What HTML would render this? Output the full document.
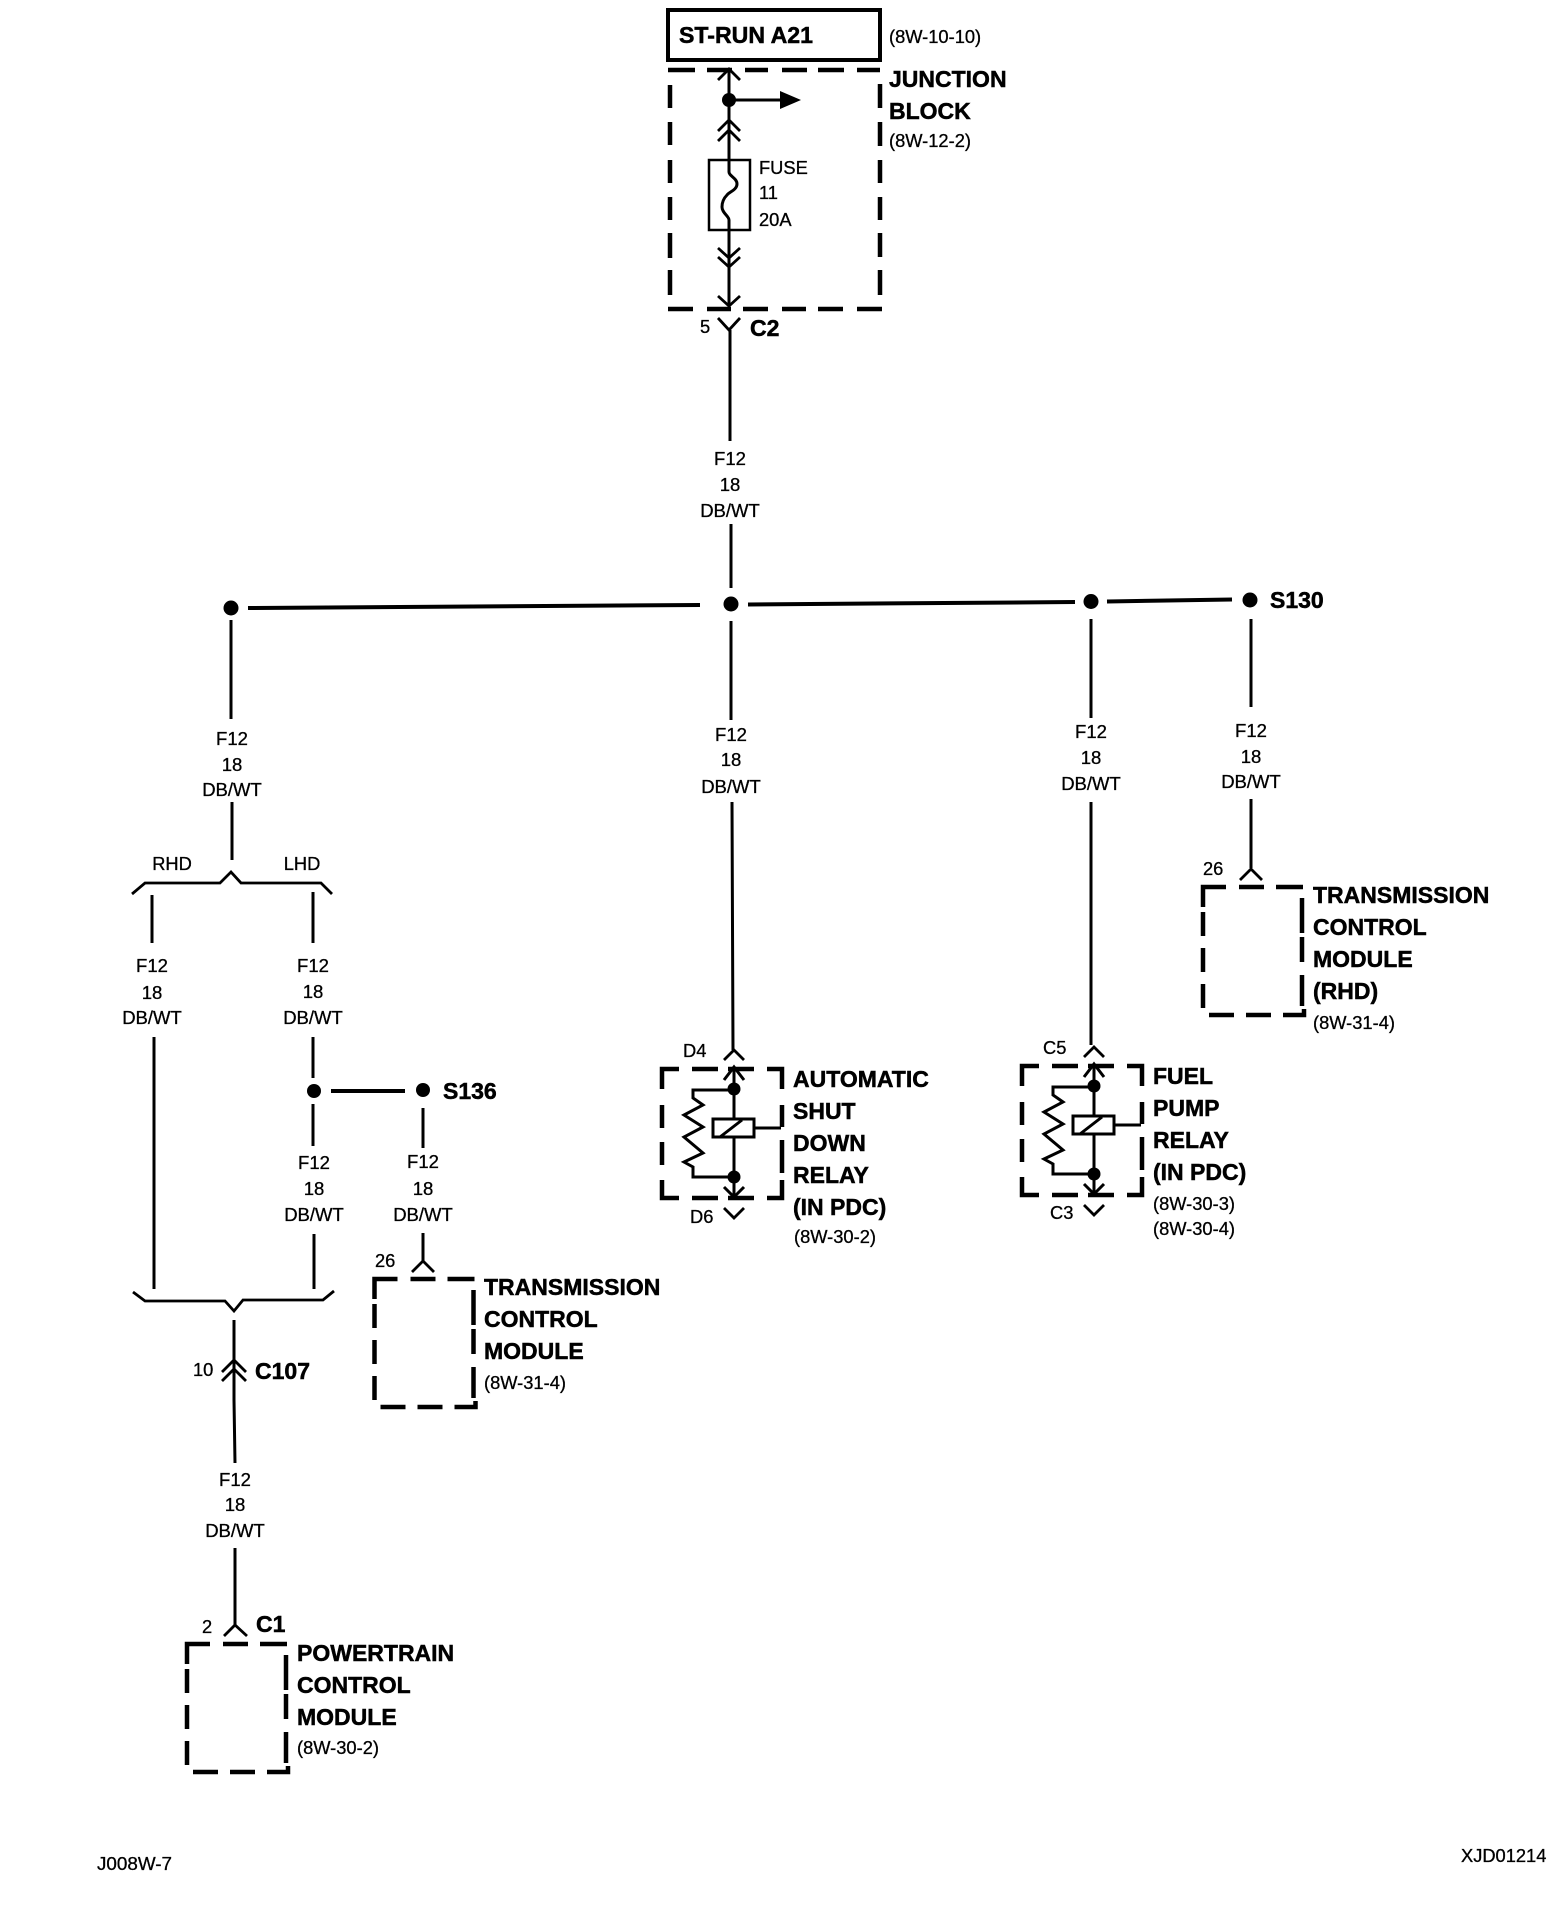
<!DOCTYPE html>
<html><head><meta charset="utf-8"><style>
html,body{margin:0;padding:0;background:#fff}
svg{display:block}
text{font-family:"Liberation Sans",sans-serif;fill:#000}
.w{font-size:18.5px;text-anchor:middle;stroke:#000;stroke-width:.3px}
.s{font-size:18.3px;stroke:#000;stroke-width:.3px}
.b{font-size:23px;font-weight:bold;stroke:#000;stroke-width:.5px}
.l{fill:none;stroke:#000;stroke-width:3}
.c{fill:none;stroke:#000;stroke-width:2.8}
.d{fill:none;stroke:#000;stroke-width:4.5}
</style></head><body>
<svg width="1568" height="1922" viewBox="0 0 1568 1922" xmlns="http://www.w3.org/2000/svg">
<defs>
<g id="mod">
<path class="d" d="M187 1664V1644H210M223 1644H248M260 1644H287M286 1655V1690M286 1694V1719M286 1732V1763M193 1772H218M230 1772H255M267 1772H288V1766M187 1669V1693M187 1705V1729M187 1741V1765"/>
</g>
<g id="relay">
<path class="d" d="M662 1089V1069H679M692 1069H718M728 1069H754M767 1069H782V1089M782 1105V1127M782 1140V1173M782 1180V1198H767M754 1198H728M718 1198H692M679 1198H662V1180M662 1105V1128M662 1142V1165"/>
<path class="l" d="M734 1067V1119M734 1137V1197M724 1080L734 1067L744 1080M724 1187L734 1197L744 1187"/>
<path class="l" d="M734 1090H693V1098L703 1105L684 1115L703 1127L684 1137L703 1153L684 1162L693 1167V1177H734"/>
<circle cx="734" cy="1089" r="6.5"/><circle cx="734" cy="1177" r="6.5"/>
<rect x="713" y="1119" width="41" height="18" fill="none" stroke="#000" stroke-width="3"/>
<path class="l" d="M720 1137L742 1120M754 1128H781"/>
<path class="c" d="M724 1060L734 1050L744 1060M724 1208L734 1218L744 1208"/>
</g>
</defs>

<!-- top -->
<rect x="668" y="10" width="212" height="50" fill="none" stroke="#000" stroke-width="4"/>
<text x="679" y="43" class="b" textLength="134" lengthAdjust="spacingAndGlyphs">ST-RUN A21</text>
<text x="889" y="43" class="s">(8W-10-10)</text>
<text x="889" y="87" class="b">JUNCTION</text>
<text x="889" y="119" class="b">BLOCK</text>
<text x="889" y="147" class="s">(8W-12-2)</text>
<path class="d" d="M668 70H695M707 70H732M745 70H768M782 70H807M818 70H844M857 70H880M670 85V108M670 122V145M670 160V183M670 197V220M670 233V258M670 270V295M880 84V108M880 122V146M880 160V183M880 197V220M880 233V257M880 270V295M668 309H693M707 309H731M743 309H768M782 309H806M818 309H843M857 309H882"/>
<path class="l" d="M729 70V172C729 176 737 178 737 184C737 190 729 192 727 195C723 199 722 204 722 207C722 213 729 216 729 220V305"/>
<path class="c" d="M718 80L729 69L740 80M718 131L729 120L740 131M718 141L729 130L740 141M718 248L729 258L740 248M718 257L729 267L740 257M718 296L729 306L740 296"/>
<circle cx="729" cy="100" r="7"/>
<path class="l" d="M729 100H785"/>
<path d="M780 91L801 100L780 109Z"/>
<rect x="709" y="160" width="41" height="70" fill="none" stroke="#000" stroke-width="2.5"/>
<text x="759" y="174" class="s">FUSE</text>
<text x="759" y="199" class="s">11</text>
<text x="759" y="226" class="s">20A</text>
<text x="700" y="333" class="s">5</text>
<path class="c" d="M718 318L729 330L740 318"/>
<text x="750" y="336" class="b">C2</text>
<path class="l" d="M730 330V441M731 524V588"/>
<text x="730" y="465" class="w">F12</text><text x="730" y="491" class="w">18</text><text x="730" y="517" class="w">DB/WT</text>

<!-- bus -->
<path d="M248 608L700 605M748 604.500L1075 602M1107 601.500L1232 599.500" fill="none" stroke="#000" stroke-width="4"/>
<circle cx="231" cy="608" r="7.500"/><circle cx="731" cy="604" r="7.500"/><circle cx="1091" cy="601.500" r="7.500"/><circle cx="1250" cy="600" r="7.500"/>
<text x="1270" y="608" class="b">S130</text>

<!-- left -->
<path class="l" d="M231 620V719M232 802V860"/>
<text x="232" y="745" class="w">F12</text><text x="232" y="771" class="w">18</text><text x="232" y="796" class="w">DB/WT</text>
<path class="c" d="M132 894L145 883H220L231 872L241 883H321L332 894"/>
<text x="172" y="870" class="s" text-anchor="middle">RHD</text><text x="302" y="870" class="s" text-anchor="middle">LHD</text>
<path class="l" d="M152 895V943M154 1037V1289M313 892V943M313 1037V1078M313 1104V1146M314 1234V1289"/>
<text x="152" y="972" class="w">F12</text><text x="152" y="999" class="w">18</text><text x="152" y="1024" class="w">DB/WT</text>
<text x="313" y="972" class="w">F12</text><text x="313" y="998" class="w">18</text><text x="313" y="1024" class="w">DB/WT</text>
<circle cx="314" cy="1091" r="7"/><circle cx="423" cy="1090" r="7"/>
<path d="M331 1091H405" fill="none" stroke="#000" stroke-width="4"/>
<text x="443" y="1099" class="b">S136</text>
<text x="314" y="1169" class="w">F12</text><text x="314" y="1195" class="w">18</text><text x="314" y="1221" class="w">DB/WT</text>
<path class="l" d="M423 1108V1148M423 1233V1262"/>
<text x="423" y="1168" class="w">F12</text><text x="423" y="1195" class="w">18</text><text x="423" y="1221" class="w">DB/WT</text>
<path class="c" d="M412 1272L423 1261L434 1272"/>
<text x="375" y="1267" class="s">26</text>
<use href="#mod" transform="translate(187.500,-365)"/>
<text x="484" y="1295" class="b">TRANSMISSION</text><text x="484" y="1327" class="b">CONTROL</text><text x="484" y="1359" class="b">MODULE</text><text x="484" y="1389" class="s">(8W-31-4)</text>

<path class="c" d="M133 1292L145 1301H225L234 1311L243 1300H323L334 1291"/>
<path class="l" d="M234 1320V1400L235 1463M235 1548V1626"/>
<path class="c" d="M222 1372L234 1360L246 1372M222 1381L234 1369L246 1381"/>
<text x="193" y="1376" class="s">10</text>
<text x="255" y="1379" class="b">C107</text>
<text x="235" y="1486" class="w">F12</text><text x="235" y="1511" class="w">18</text><text x="235" y="1537" class="w">DB/WT</text>
<path class="c" d="M224 1636L235 1625L247 1636"/>
<text x="202" y="1633" class="s">2</text>
<text x="256" y="1632" class="b">C1</text>
<use href="#mod"/>
<text x="297" y="1661" class="b">POWERTRAIN</text><text x="297" y="1693" class="b">CONTROL</text><text x="297" y="1725" class="b">MODULE</text><text x="297" y="1754" class="s">(8W-30-2)</text>

<!-- middle relay -->
<path class="l" d="M731 621V720M732 802L733 1050"/>
<text x="731" y="741" class="w">F12</text><text x="731" y="766" class="w">18</text><text x="731" y="793" class="w">DB/WT</text>
<use href="#relay"/>
<text x="683" y="1057" class="s">D4</text><text x="690" y="1223" class="s">D6</text>
<text x="793" y="1087" class="b">AUTOMATIC</text><text x="793" y="1119" class="b">SHUT</text><text x="793" y="1151" class="b">DOWN</text><text x="793" y="1183" class="b">RELAY</text><text x="793" y="1215" class="b">(IN PDC)</text><text x="794" y="1243" class="s">(8W-30-2)</text>

<!-- fuel relay -->
<path class="l" d="M1091 619V718M1091 802V1045"/>
<text x="1091" y="738" class="w">F12</text><text x="1091" y="764" class="w">18</text><text x="1091" y="790" class="w">DB/WT</text>
<use href="#relay" transform="translate(360,-3)"/>
<text x="1043" y="1054" class="s">C5</text><text x="1050" y="1219" class="s">C3</text>
<text x="1153" y="1084" class="b">FUEL</text><text x="1153" y="1116" class="b">PUMP</text><text x="1153" y="1148" class="b">RELAY</text><text x="1153" y="1180" class="b">(IN PDC)</text><text x="1153" y="1210" class="s">(8W-30-3)</text><text x="1153" y="1235" class="s">(8W-30-4)</text>

<!-- right -->
<path class="l" d="M1251 619V707M1251 799V868"/>
<text x="1251" y="737" class="w">F12</text><text x="1251" y="763" class="w">18</text><text x="1251" y="788" class="w">DB/WT</text>
<path class="c" d="M1240 880L1251 869L1262 880"/>
<text x="1203" y="875" class="s">26</text>
<use href="#mod" transform="translate(1016,-757)"/>
<text x="1313" y="903" class="b">TRANSMISSION</text><text x="1313" y="935" class="b">CONTROL</text><text x="1313" y="967" class="b">MODULE</text><text x="1313" y="999" class="b">(RHD)</text><text x="1313" y="1029" class="s">(8W-31-4)</text>

<text x="97" y="1870" class="s" textLength="75" lengthAdjust="spacingAndGlyphs">J008W-7</text>
<text x="1461" y="1862" class="s">XJD01214</text>
</svg>
</body></html>
